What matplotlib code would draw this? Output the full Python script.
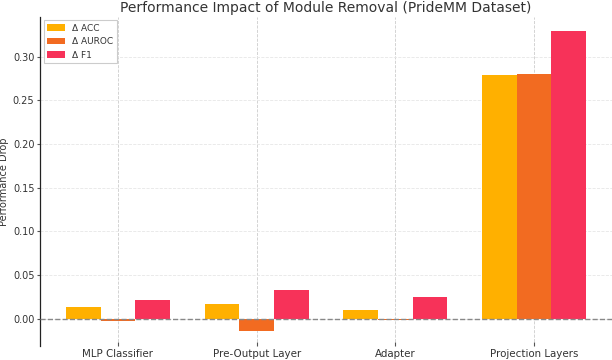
import numpy as np
import matplotlib
matplotlib.use("Agg")
import matplotlib.pyplot as plt

modules = ["MLP Classifier", "Pre-Output Layer", "Adapter", "Projection Layers"]
d_acc = [0.013, 0.017, 0.010, 0.279]
d_auroc = [-0.003, -0.014, -0.0015, 0.280]
d_f1 = [0.021, 0.033, 0.025, 0.329]

series_names = ["Δ ACC", "Δ AUROC", "Δ F1"]
colors = ["#FFB000", "#F26B21", "#F73259"]

plt.rcParams['font.family'] = ['DejaVu Sans']
txt = "#333333"

fig = plt.figure(figsize=(6.12, 3.6), dpi=100)
ax = fig.add_axes([40 / 612, 14 / 360, 572 / 612, 329.5 / 360])

x = np.arange(len(modules))
w = 0.25
for i, (vals, name, c) in enumerate(zip([d_acc, d_auroc, d_f1], series_names, colors)):
    ax.bar(x + (i - 1) * w, vals, w, label=name, color=c, zorder=3)

# zero reference line
ax.axhline(0, color="#888888", linestyle="--", linewidth=1, zorder=4)

ax.set_xticks(x)
ax.set_xticklabels(modules)
ax.grid(axis="x", color="#cccccc", linestyle="--", linewidth=0.6, zorder=0)
ax.grid(axis="y", color="#e6e6e6", linestyle="--", linewidth=0.6, zorder=0)
ax.set_axisbelow(True)

for s in ["top", "right", "bottom"]:
    ax.spines[s].set_visible(False)
ax.spines["left"].set_color("#222222")
ax.spines["left"].set_linewidth(0.9)

ax.tick_params(axis="x", direction="in", length=3, width=0.8, color="#555555",
               labelsize=7.4, labelcolor=txt, pad=2)
ax.tick_params(axis="y", direction="out", length=2.5, width=0.8, color="#555555",
               labelsize=7, labelcolor=txt, pad=1.5)

ax.set_ylabel("Performance Drop", fontsize=7, color=txt, labelpad=3)
ax.set_title("Performance Impact of Module Removal (PrideMM Dataset)",
             fontsize=10, color=txt, pad=3)

leg = ax.legend(loc="upper left", fontsize=6.5, fancybox=False, framealpha=1,
                edgecolor="#cccccc", borderaxespad=0.4)
leg.get_frame().set_linewidth(0.8)
for t in leg.get_texts():
    t.set_color(txt)

fig.savefig("out.png", dpi=100)
